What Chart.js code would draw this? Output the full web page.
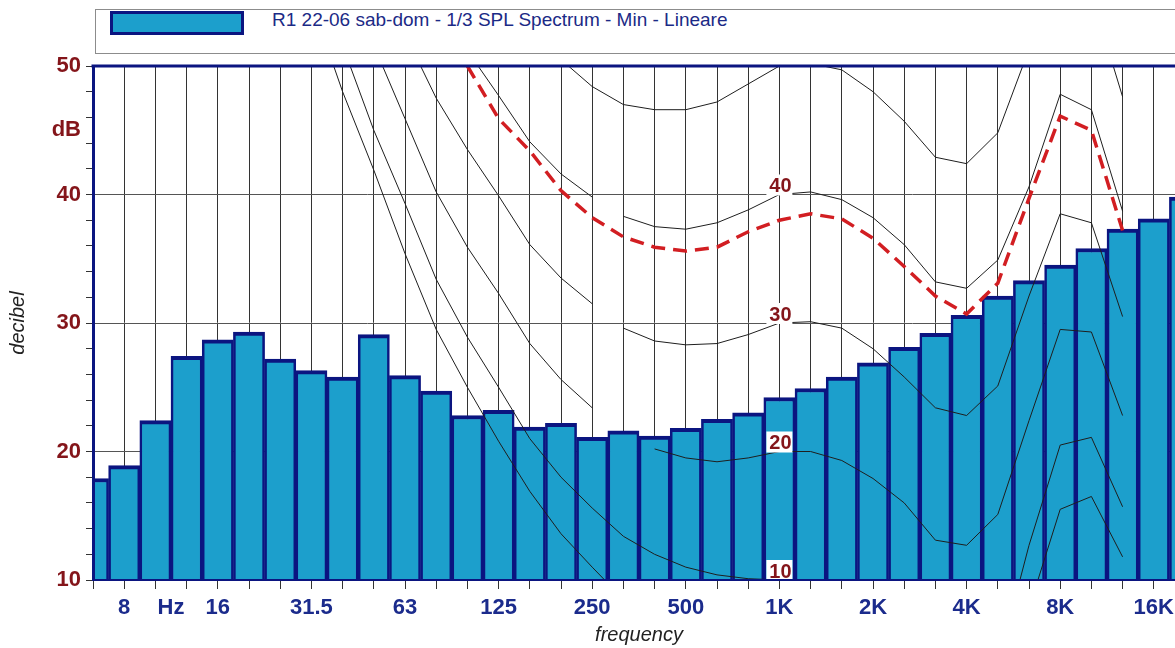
<!DOCTYPE html>
<html>
<head>
<meta charset="utf-8">
<script src="https://cdn.jsdelivr.net/npm/chart.js@4.4.1/dist/chart.umd.min.js"></script>
<style>
  html, body { margin: 0; padding: 0; background: #fff; overflow: hidden; }
  #wrap { position: relative; width: 1200px; height: 648px; }
  #box { position: absolute; left: 0; top: 0; width: 1200px; height: 648px; }
  #legend {
    position: absolute; left: 95px; top: 9px; width: 1200px; height: 45px;
    border: 1px solid #8c8c8c; box-sizing: border-box; background: #fff;
    font-family: "Liberation Sans", Arial, sans-serif;
  }
  #legend .sw {
    position: absolute; left: 14px; top: 1px; width: 134px; height: 24px;
    background: #1c9fcc; border: 3px solid #0b1580; box-sizing: border-box;
  }
  #legend .txt {
    position: absolute; left: 176px; top: -1px; font-size: 19px; line-height: 22px; color: #1b2a86;
  }
</style>
</head>
<body>
<div id="wrap">
  <div id="box"><canvas id="c"></canvas></div>
  <div id="legend"><div class="sw"></div><div class="txt">R1 22-06 sab-dom - 1/3 SPL Spectrum - Min - Lineare</div></div>
</div>
<script>
// 1/3 octave bands, 6.3 Hz .. 20 kHz
const bands = ['6.3', '8', '10', '12.5', '16', '20', '25', '31.5', '40', '50', '63', '80',
  '100', '125', '160', '200', '250', '315', '400', '500', '630', '800', '1K', '1.25K',
  '1.6K', '2K', '2.5K', '3.15K', '4K', '5K', '6.3K', '8K', '10K', '12.5K', '16K', '20K'];
const axisLabels = ['8', '16', '31.5', '63', '125', '250', '500', '1K', '2K', '4K', '8K', '16K'];

// measured spectrum (min, linear), dB
const splMin = [17.9, 18.9, 22.4, 27.4, 28.7, 29.3, 27.2, 26.3, 25.8, 29.1, 25.9, 24.7,
  22.8, 23.2, 21.9, 22.2, 21.1, 21.6, 21.2, 21.8, 22.5, 23.0, 24.2, 24.9,
  25.8, 26.9, 28.1, 29.2, 30.6, 32.1, 33.3, 34.5, 35.8, 37.3, 38.1, 39.8];

const _ = null;
// red dashed reference curve
const refCurve = [_, _, _, _, _, _, _, _, _, _, _, _,
  50.0, 45.9, 43.4, 40.3, 38.2, 36.7, 35.9, 35.6, 35.9, 37.1, 38.0, 38.5,
  38.1, 36.6, 34.4, 32.1, 30.7, 33.1, 39.7, 46.1, 45.0, 37.2, _, _];

// thin contour curves (labelled 10..40 at 1 kHz)
const phon0 = [_, _, _, _, _, _, _, 55.0, 48.0, 41.9, 35.4, 29.5,
  25.0, 20.8, 16.9, 13.6, 11.0, 8.5, _, _, _, _, _, _,
  _, _, _, _, _, _, 7.8, 15.5, 16.5, 11.8, _, _];
const phon10 = [_, _, _, _, _, _, _, _, 51.6, 45.0, 39.3, 33.4,
  28.9, 25.0, 21.0, 18.0, 15.6, 13.4, 12.0, 11.0, 10.4, 10.1, 10.0, 9.5,
  _, _, _, _, _, 3.4, 12.7, 20.5, 21.1, 15.7, _, _];
const phon20Low = [_, _, _, _, _, _, _, _, _, 51.6, 45.9, 40.2,
  35.9, 32.3, 28.4, 25.6, 23.4, _, _, _, _, _, _, _,
  _, _, _, _, _, _, _, _, _, _, _, _];
const phon20 = [_, _, _, _, _, _, _, _, _, _, _, _,
  _, _, _, _, _, _, 20.2, 19.5, 19.2, 19.5, 20.0, 20.0,
  19.3, 17.9, 16.0, 13.1, 12.7, 15.1, 22.4, 29.5, 29.3, 22.8, _, _];
const phon30Low = [_, _, _, _, _, _, _, _, _, _, 52.5, 47.5,
  43.5, 39.9, 36.1, 33.5, 31.5, _, _, _, _, _, _, _,
  _, _, _, _, _, _, _, _, _, _, _, _];
const phon30 = [_, _, _, _, _, _, _, _, _, _, _, _,
  _, _, _, _, _, 29.6, 28.6, 28.3, 28.4, 29.1, 30.0, 30.1,
  29.6, 28.0, 25.8, 23.4, 22.8, 25.1, 32.1, 38.5, 37.8, 30.5, _, _];
const phon40Low = [_, _, _, _, _, _, _, _, _, _, _, _,
  51.2, 47.7, 44.1, 41.6, 39.8, _, _, _, _, _, _, _,
  _, _, _, _, _, _, _, _, _, _, _, _];
const phon40 = [_, _, _, _, _, _, _, _, _, _, _, _,
  _, _, _, _, _, 38.3, 37.5, 37.3, 37.8, 38.8, 40.0, 40.2,
  39.6, 38.2, 36.1, 33.2, 32.7, 34.9, 40.6, 47.8, 46.6, 38.7, _, _];
const phon50 = [_, _, _, _, _, _, _, _, _, _, _, _,
  _, _, _, 50.5, 48.4, 47.0, 46.6, 46.6, 47.2, 48.6, 50.0, 50.2,
  49.7, 48.0, 45.7, 42.9, 42.4, 44.8, 51.3, 56.0, 55.6, 47.6, _, _];
const phonLabels = [10, 20, 30, 40];

const FONT = '"Liberation Sans", Arial, sans-serif';
const BAR = '#1c9fcc';
const EDGE = '#0b1580';
const RED_TXT = '#84151a';
const BLUE_TXT = '#1b2b8c';
const TICK_PAD = 6, TICK_LEN = 9, TICK_SIZE = 22;

function contour(data) {
  return {
    type: 'line', data, borderColor: '#1e1e1e', borderWidth: 1,
    pointRadius: 0, tension: 0, spanGaps: false, clip: 0, order: 2,
  };
}

// phon labels at 1 kHz, top frame line and the "Hz" unit label
const decor = {
  id: 'decor',
  afterDatasetsDraw(chart) {
    const { ctx, scales: { x, y } } = chart;
    const px = x.getPixelForValue(bands.indexOf('1K'));
    ctx.save();
    ctx.font = `bold 20px ${FONT}`;
    ctx.textAlign = 'center';
    ctx.textBaseline = 'middle';
    phonLabels.forEach((p) => {
      const py = y.getPixelForValue(p) - 9;
      ctx.fillStyle = '#fff';
      ctx.fillRect(px - 13, py - 11, 26, 21);
      ctx.fillStyle = RED_TXT;
      ctx.fillText(String(p), px + 1, py + 1);
    });
    ctx.restore();
  },
  afterDraw(chart) {
    const { ctx, chartArea: a, scales: { x } } = chart;
    ctx.save();
    ctx.strokeStyle = EDGE;
    ctx.lineWidth = 3;
    ctx.beginPath();
    ctx.moveTo(a.left - 1.5, a.top);
    ctx.lineTo(a.right, a.top);
    ctx.stroke();
    const hx = (x.getPixelForValue(2) + x.getPixelForValue(3)) / 2;
    ctx.font = `bold ${TICK_SIZE}px ${FONT}`;
    ctx.fillStyle = BLUE_TXT;
    ctx.textAlign = 'center';
    ctx.textBaseline = 'middle';
    ctx.fillText('Hz', hx, x.top + TICK_LEN + TICK_PAD + TICK_SIZE * 0.6);
    ctx.restore();
  },
};

new Chart(document.getElementById('c'), {
  type: 'bar',
  data: {
    labels: bands,
    datasets: [
      {
        type: 'line', data: refCurve, borderColor: '#d21e22', borderWidth: 3.5,
        borderDash: [14, 8], pointRadius: 0, tension: 0, clip: 0, order: 1,
      },
      contour(phon0), contour(phon10), contour(phon20Low), contour(phon20),
      contour(phon30Low), contour(phon30), contour(phon40Low), contour(phon40), contour(phon50),
      {
        type: 'bar', label: 'R1 22-06 sab-dom - 1/3 SPL Spectrum - Min - Lineare', data: splMin,
        backgroundColor: BAR, borderColor: EDGE,
        borderWidth: { top: 4, left: 2.6, right: 2.6, bottom: 0 },
        barPercentage: 1, categoryPercentage: 1, clip: 0, order: 3,
      },
    ],
  },
  options: {
    responsive: true,
    maintainAspectRatio: false,
    animation: false,
    devicePixelRatio: 1,
    layout: { padding: { top: 66, right: 15, left: 0, bottom: 0 } },
    plugins: { legend: { display: false }, tooltip: { enabled: false } },
    scales: {
      x: {
        type: 'category',
        offset: false,
        afterFit: (s) => { s.height = 68; },
        border: { color: EDGE, width: 2, z: 1 },
        grid: { offset: false, color: '#333', lineWidth: 1, tickColor: '#333', tickLength: TICK_LEN },
        ticks: {
          autoSkip: false, maxRotation: 0, minRotation: 0, padding: TICK_PAD,
          color: BLUE_TXT, font: { family: FONT, size: TICK_SIZE, weight: 'bold' },
          callback: (v, i) => (axisLabels.includes(bands[i]) ? bands[i] : ''),
        },
        title: {
          display: true, text: 'frequency', color: '#222',
          font: { family: FONT, size: 20, style: 'italic' }, padding: { top: 0, bottom: 1 },
        },
      },
      y: {
        min: 10,
        max: 50,
        afterFit: (s) => { s.width = 93; },
        border: { color: EDGE, width: 3, z: 1 },
        grid: {
          color: (c) => (c.tick && [20, 30, 40].includes(c.tick.value) ? '#555' : 'transparent'),
          tickColor: (c) => (c.tick && c.tick.value % 2 === 0 ? '#333' : 'transparent'),
          tickLength: 7,
          lineWidth: 1,
        },
        ticks: {
          stepSize: 1, autoSkip: false, padding: 5,
          color: RED_TXT, font: { family: FONT, size: 22, weight: 'bold' },
          callback: (v) => (v % 10 === 0 ? String(v) : (v === 45 ? 'dB' : '')),
        },
        title: {
          display: true, text: 'decibel', color: '#222',
          font: { family: FONT, size: 20, style: 'italic' }, padding: { top: 6, bottom: 0 },
        },
      },
    },
  },
  plugins: [decor],
});
</script>
</body>
</html>
